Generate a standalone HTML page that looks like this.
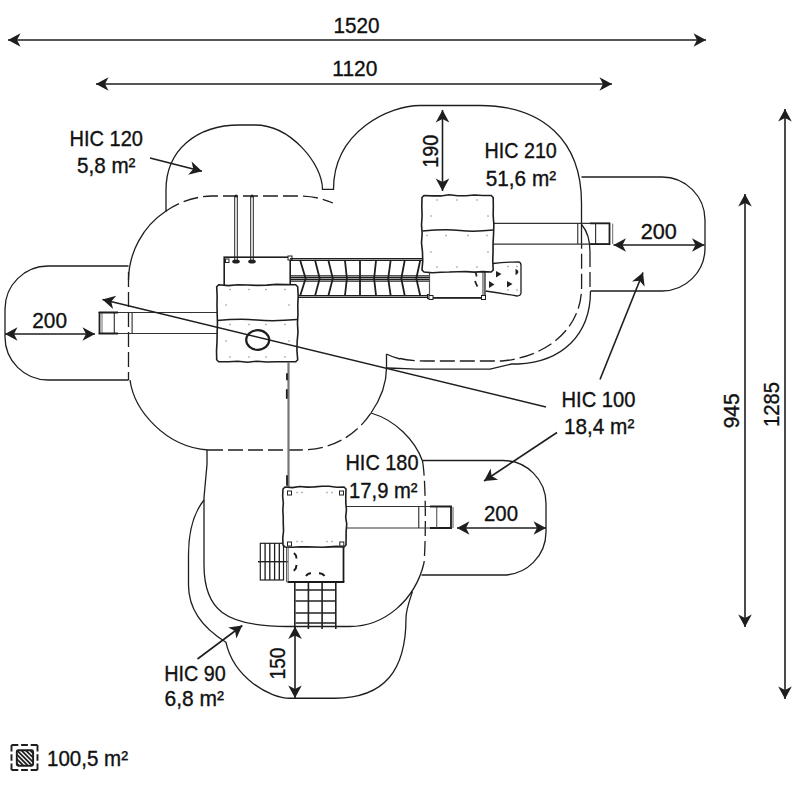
<!DOCTYPE html>
<html><head><meta charset="utf-8"><style>
html,body{margin:0;padding:0;background:#fff;}
svg{display:block;}
text{font-family:"Liberation Sans", sans-serif;}
</style></head><body>
<svg width="800" height="800" viewBox="0 0 800 800">
<rect width="800" height="800" fill="#fff"/>
<g fill="none" stroke="#1e1e1e" stroke-width="1.3">
<path d="M166,212 V190 C166,150.7 195.6,125 240,125 H255 C290.4,125 322.5,163.8 322.5,189.4 H333.5 C333.5,130.85 389.7,105.5 420,105.5 H480 C542.4,105.5 581.5,140.3 581.5,203 V244"/>
<path d="M581.5,177 H662 A43,43 0 0 1 705,220 V248 A43,43 0 0 1 662,291 H590.5"/>
<path d="M590.5,291 C590.5,335 562,362 518,364 L511.7,364 L490,369.2 L424,369.2 C410,369 398,368 386.5,368"/>
<path d="M581.6,224.5 C588,232 590,242 590,252"/>
<path d="M386.5,354 Q392,357 400,359"/>
<path d="M166,211 A84,84 0 0 0 128.5,280"/>
<path d="M130,380 C134,410 165,447 208,450"/>
<path d="M371,413 C380,400 386.5,385 386.5,368 V354"/>
<path d="M128.5,266 H48 A43,43 0 0 0 5,309 V337 A43,43 0 0 0 48,380 H128.5"/>
<path d="M371,413 C395,420 415,440 422.5,461"/>
<path d="M424,563 C415,600 385,626.5 349.5,626.5 H290 C224,627 204,609 204,565 V497.5 L207,464.5 V450"/>
<path d="M422.5,460.5 H503 A43,43 0 0 1 546,503.5 V532 A43,43 0 0 1 503,575 H421.5"/>
<path d="M204,500 C196,510 188.5,525 188.5,555 V585 C188.5,605 198,625 225.9,642.2 C233.9,678.3 270,698.25 290,698.25 H335 C385,698 406,670 406,618 C406,610 409,602 412.5,591.5"/>
</g>
<g fill="none" stroke="#1e1e1e" stroke-width="1.3" stroke-dasharray="15 5">
<path d="M590,252 V291"/>
<path d="M400,358.5 Q410,361 430,361 L502,361 C545,357 581.6,330 581.6,287 V244"/>
<path d="M128.5,272 V380"/>
<path d="M166,211 A84,84 0 0 1 212,196 H300 A82,82 0 0 1 333,203"/>
<path d="M208,450 H300 C330,450 355,437 371,413"/>
<path d="M422.5,461 C426,480 426,540 424,563"/>
</g>
<g fill="none" stroke="#333" stroke-width="1.15"><line x1="98.5" y1="312.5" x2="217" y2="312.5"/><line x1="98.5" y1="333.5" x2="217" y2="333.5"/><line x1="114.3" y1="312.5" x2="114.3" y2="333.5"/><line x1="132.1" y1="312.5" x2="132.1" y2="333.5"/></g>
<path d="M118,312.5 H99.5 V333.5 H118" fill="none" stroke="#1e1e1e" stroke-width="1.8"/>
<line x1="102" y1="313" x2="102" y2="333" stroke="#444" stroke-width="0.8"/>
<g fill="none" stroke="#333" stroke-width="1.15"><line x1="493" y1="223.3" x2="610" y2="223.3"/><line x1="493" y1="244.1" x2="610" y2="244.1"/><line x1="577.75" y1="223.3" x2="577.75" y2="244.1"/><line x1="595.6" y1="223.3" x2="595.6" y2="244.1"/></g>
<path d="M590,223.3 H609.5 V244.1 H590" fill="none" stroke="#1e1e1e" stroke-width="1.8"/>
<line x1="612.7" y1="223.5" x2="612.7" y2="244" stroke="#444" stroke-width="0.8"/>
<g fill="none" stroke="#333" stroke-width="1.15"><line x1="346" y1="506.5" x2="452" y2="506.5"/><line x1="346" y1="528" x2="452" y2="528"/><line x1="418.75" y1="506.5" x2="418.75" y2="528"/></g>
<path d="M430,506.5 H451 V528 H430" fill="none" stroke="#1e1e1e" stroke-width="1.8"/>
<line x1="436.75" y1="507" x2="436.75" y2="528" stroke="#444" stroke-width="1"/>
<line x1="453" y1="507" x2="453" y2="528" stroke="#444" stroke-width="0.9"/>
<rect x="224.2" y="257.2" width="66" height="40" fill="#fff" stroke="#1e1e1e" stroke-width="1.6"/>
<rect x="288" y="256" width="4" height="4" fill="#fff" stroke="#1e1e1e" stroke-width="1"/>
<line x1="234.7" y1="196" x2="234.7" y2="262" stroke="#222" stroke-width="1"/>
<line x1="237.3" y1="196" x2="237.3" y2="262" stroke="#222" stroke-width="1"/>
<ellipse cx="236" cy="261.5" rx="3.8" ry="2" fill="#222"/>
<circle cx="236" cy="196" r="1.5" fill="#222"/>
<line x1="250.7" y1="196" x2="250.7" y2="262" stroke="#222" stroke-width="1"/>
<line x1="253.3" y1="196" x2="253.3" y2="262" stroke="#222" stroke-width="1"/>
<ellipse cx="252" cy="261.5" rx="3.8" ry="2" fill="#222"/>
<circle cx="252" cy="196" r="1.5" fill="#222"/>
<rect x="225.5" y="259" width="3.5" height="3.5" fill="#fff" stroke="#222" stroke-width="1"/>
<g stroke="#1e1e1e" fill="none">
<line x1="290" y1="258.6" x2="422" y2="258.6" stroke-width="1.1"/><line x1="290" y1="260.4" x2="422" y2="260.4" stroke-width="1.1"/>
<line x1="297" y1="295.6" x2="430" y2="295.6" stroke-width="1.1"/><line x1="297" y1="297.4" x2="430" y2="297.4" stroke-width="1.1"/>
<line x1="290" y1="275.8" x2="430" y2="275.8" stroke-width="1.3"/>
<line x1="290" y1="277.6" x2="430" y2="277.6" stroke-width="1.3"/>
<line x1="290" y1="279.4" x2="430" y2="279.4" stroke-width="1.3"/>
<line x1="290" y1="281.2" x2="430" y2="281.2" stroke-width="1.3"/>
<path d="M300.1,260 L305.6,278.5 L300.1,296" stroke-width="1.8"/>
<path d="M315.0,260 L319.7,278.5 L315.0,296" stroke-width="1.8"/>
<path d="M328.3,260 L332.8,278.5 L328.3,296" stroke-width="1.8"/>
<path d="M344.9,260 L346.9,278.5 L344.9,296" stroke-width="1.8"/>
<path d="M360.0,260 L360.0,278.5 L360.0,296" stroke-width="1.8"/>
<path d="M376.1,260 L374.1,278.5 L376.1,296" stroke-width="1.8"/>
<path d="M390.7,260 L388.2,278.5 L390.7,296" stroke-width="1.8"/>
<path d="M404.8,260 L401.3,278.5 L404.8,296" stroke-width="1.8"/>
<path d="M420.3,260 L416.3,278.5 L420.3,296" stroke-width="1.8"/>
</g>
<rect x="427.5" y="294.5" width="4" height="4" fill="#fff" stroke="#1e1e1e" stroke-width="1"/>
<path d="M216.70,286.80 L218.70,284.80 L228.32,285.58 L237.95,284.80 L247.57,284.93 L257.20,285.40 L266.82,285.08 L276.45,284.36 L286.07,284.64 L295.70,284.80 L297.70,286.80 L298.21,295.91 L297.78,305.02 L297.95,314.14 L297.48,323.25 L297.99,332.36 L297.16,341.48 L296.91,350.59 L297.70,359.70 L295.70,361.70 L286.07,361.81 L276.45,361.79 L266.82,361.97 L257.20,361.19 L247.57,362.20 L237.95,361.26 L228.32,361.72 L218.70,361.70 L216.70,359.70 L216.52,350.59 L217.03,341.48 L217.16,332.36 L217.46,323.25 L217.18,314.14 L216.99,305.02 L217.14,295.91 L216.70,286.80 Z" fill="#fff" stroke="#1e1e1e" stroke-width="1.6"/>
<path d="M217,320.5 Q240,318.5 257,320 T297,319.5" fill="none" stroke="#1e1e1e" stroke-width="1.5"/>
<rect x="229.3" y="288.8" width="1.4" height="1.4" fill="#999"/><rect x="229.3" y="323.8" width="1.4" height="1.4" fill="#999"/><rect x="229.3" y="356.3" width="1.4" height="1.4" fill="#999"/><rect x="248.3" y="288.8" width="1.4" height="1.4" fill="#999"/><rect x="248.3" y="323.8" width="1.4" height="1.4" fill="#999"/><rect x="248.3" y="356.3" width="1.4" height="1.4" fill="#999"/><rect x="265.3" y="288.8" width="1.4" height="1.4" fill="#999"/><rect x="265.3" y="323.8" width="1.4" height="1.4" fill="#999"/><rect x="265.3" y="356.3" width="1.4" height="1.4" fill="#999"/><rect x="284.3" y="288.8" width="1.4" height="1.4" fill="#999"/><rect x="284.3" y="323.8" width="1.4" height="1.4" fill="#999"/><rect x="284.3" y="356.3" width="1.4" height="1.4" fill="#999"/>
<rect x="225.3" y="304.3" width="1.4" height="1.4" fill="#999"/><rect x="225.3" y="340.3" width="1.4" height="1.4" fill="#999"/><rect x="288.3" y="304.3" width="1.4" height="1.4" fill="#999"/><rect x="288.3" y="340.3" width="1.4" height="1.4" fill="#999"/>
<ellipse cx="257.7" cy="340" rx="11.5" ry="9.8" fill="none" stroke="#1e1e1e" stroke-width="2.2"/>
<line x1="288.5" y1="362" x2="288.5" y2="488" stroke="#777" stroke-width="2.2"/>
<path d="M287,374 V379.5 M286.8,390 V398 M287,476 V485" stroke="#1a1a1a" stroke-width="1.8" stroke-linecap="round"/>
<rect x="429.5" y="262" width="54.7" height="35.8" fill="#fff" stroke="#555" stroke-width="1.2"/>
<line x1="430" y1="297.8" x2="484" y2="297.8" stroke="#222" stroke-width="1.8"/>
<line x1="482.8" y1="272" x2="482.8" y2="297" stroke="#666" stroke-width="1"/><line x1="485.2" y1="264" x2="485.2" y2="297" stroke="#444" stroke-width="1.1"/>
<rect x="429" y="295.5" width="4" height="4" fill="#fff" stroke="#1e1e1e" stroke-width="1"/>
<rect x="481.5" y="295.5" width="4" height="4" fill="#fff" stroke="#1e1e1e" stroke-width="1"/>
<path d="M475.5,272.5 Q476.5,274 476.5,276.5 M475,281 Q476,284 477.5,286.5" fill="none" stroke="#222" stroke-width="1.8"/>
<path d="M493,263.5 Q505,262 518,261.8 Q521,262 521,265 V293 Q520.5,296 517,296 Q500,293 485.5,291" fill="#fff" stroke="#1e1e1e" stroke-width="1.3"/>
<path d="M496,271 L501.5,274 L496,277.5 Z M489,281 L494.5,284.5 L489,288 Z M507,281 L512.5,284 L507,287.5 Z M515.5,268.8 Q521.5,272 515.5,275.2 Z" fill="#222"/>
<rect x="507.3" y="265.8" width="1.4" height="1.4" fill="#999"/><rect x="507.3" y="289.3" width="1.4" height="1.4" fill="#999"/><rect x="516.3" y="265.8" width="1.4" height="1.4" fill="#999"/><rect x="516.3" y="289.3" width="1.4" height="1.4" fill="#999"/>
<path d="M422.00,197.50 L424.00,195.50 L432.40,195.86 L440.80,195.92 L449.20,194.80 L457.60,195.75 L466.00,195.81 L474.40,195.06 L482.80,195.50 L491.20,195.50 L493.20,197.50 L493.32,206.56 L493.18,215.62 L493.85,224.69 L493.58,233.75 L493.06,242.81 L493.04,251.88 L492.75,260.94 L493.20,270.00 L491.20,272.00 L482.80,271.59 L474.40,272.15 L466.00,271.66 L457.60,271.70 L449.20,272.07 L440.80,272.25 L432.40,272.68 L424.00,272.00 L422.00,270.00 L422.76,260.94 L422.46,251.88 L421.48,242.81 L422.16,233.75 L421.51,224.69 L422.10,215.62 L421.80,206.56 L422.00,197.50 Z" fill="#fff" stroke="#1e1e1e" stroke-width="1.6"/>
<path d="M422.5,231 Q445,229 460,230.5 T493,230" fill="none" stroke="#1e1e1e" stroke-width="1.5"/>
<rect x="436.3" y="199.3" width="1.4" height="1.4" fill="#999"/><rect x="436.3" y="266.3" width="1.4" height="1.4" fill="#999"/><rect x="456.3" y="199.3" width="1.4" height="1.4" fill="#999"/><rect x="456.3" y="266.3" width="1.4" height="1.4" fill="#999"/><rect x="476.3" y="199.3" width="1.4" height="1.4" fill="#999"/><rect x="476.3" y="266.3" width="1.4" height="1.4" fill="#999"/>
<rect x="430.3" y="215.3" width="1.4" height="1.4" fill="#999"/><rect x="430.3" y="251.3" width="1.4" height="1.4" fill="#999"/><rect x="487.3" y="215.3" width="1.4" height="1.4" fill="#999"/><rect x="487.3" y="251.3" width="1.4" height="1.4" fill="#999"/>
<rect x="426.3" y="234.8" width="1.4" height="1.4" fill="#999"/><rect x="445.3" y="234.8" width="1.4" height="1.4" fill="#999"/><rect x="467.3" y="234.8" width="1.4" height="1.4" fill="#999"/><rect x="486.3" y="234.8" width="1.4" height="1.4" fill="#999"/>
<rect x="260.3" y="543.3" width="23.2" height="36.7" fill="#fff" stroke="#222" stroke-width="1.2"/>
<line x1="265.1" y1="543.3" x2="265.1" y2="580" stroke="#1a1a1a" stroke-width="1.3"/>
<line x1="269.8" y1="543.3" x2="269.8" y2="580" stroke="#1a1a1a" stroke-width="1.3"/>
<line x1="274.6" y1="543.3" x2="274.6" y2="580" stroke="#1a1a1a" stroke-width="1.3"/>
<line x1="279.3" y1="543.3" x2="279.3" y2="580" stroke="#1a1a1a" stroke-width="1.3"/>
<line x1="258" y1="561.7" x2="290" y2="561.7" stroke="#222" stroke-width="1.4"/>
<rect x="288.25" y="547" width="55.25" height="35" fill="#fff" stroke="#888" stroke-width="1.2"/>
<line x1="287.5" y1="582" x2="344.3" y2="582" stroke="#1a1a1a" stroke-width="2"/>
<line x1="343.5" y1="547" x2="343.5" y2="582" stroke="#1a1a1a" stroke-width="1.7"/>
<line x1="286.6" y1="547" x2="286.6" y2="582" stroke="#555" stroke-width="1.1"/>
<path d="M294,553 Q296.5,555 296.5,558.5 M296.5,565 Q296.5,568.5 293.8,570.8 M306,576 Q308,573.2 311,573.2 M319,573.2 Q322.5,573.2 324.5,576" fill="none" stroke="#1a1a1a" stroke-width="2"/>
<g stroke="#222" stroke-width="1.6">
<line x1="294.8" y1="583" x2="294.8" y2="629" />
<line x1="308.4" y1="583" x2="308.4" y2="629" />
<line x1="322.1" y1="583" x2="322.1" y2="629" />
<line x1="335.8" y1="583" x2="335.8" y2="629" />
<line x1="295.5" y1="590" x2="335.5" y2="590" />
<line x1="295.5" y1="601" x2="335.5" y2="601" />
<line x1="295.5" y1="613" x2="335.5" y2="613" />
<line x1="295.5" y1="623" x2="335.5" y2="623" />
</g>
<path d="M283.00,489.00 L285.00,487.00 L292.38,487.58 L299.75,486.47 L307.12,487.11 L314.50,486.89 L321.88,486.32 L329.25,486.27 L336.62,487.25 L344.00,487.00 L346.00,489.00 L345.77,496.00 L345.83,503.00 L346.42,510.00 L345.68,517.00 L346.73,524.00 L346.16,531.00 L346.09,538.00 L346.00,545.00 L344.00,547.00 L336.62,546.34 L329.25,546.83 L321.88,547.26 L314.50,547.01 L307.12,546.88 L299.75,546.74 L292.38,547.31 L285.00,547.00 L283.00,545.00 L282.76,538.00 L283.54,531.00 L283.28,524.00 L283.22,517.00 L282.84,510.00 L283.33,503.00 L282.64,496.00 L283.00,489.00 Z" fill="#fff" stroke="#1e1e1e" stroke-width="1.6"/>
<rect x="287.5" y="491.0" width="4" height="4" fill="none" stroke="#222" stroke-width="1"/>
<rect x="339.5" y="491.0" width="4" height="4" fill="none" stroke="#222" stroke-width="1"/>
<rect x="287.5" y="542.0" width="4" height="4" fill="none" stroke="#222" stroke-width="1"/>
<rect x="339.8" y="542.0" width="4" height="4" fill="none" stroke="#222" stroke-width="1"/>
<rect x="296.3" y="491.8" width="1.4" height="1.4" fill="#999"/><rect x="296.3" y="540.8" width="1.4" height="1.4" fill="#999"/><rect x="301.3" y="491.8" width="1.4" height="1.4" fill="#999"/><rect x="301.3" y="540.8" width="1.4" height="1.4" fill="#999"/><rect x="326.3" y="491.8" width="1.4" height="1.4" fill="#999"/><rect x="326.3" y="540.8" width="1.4" height="1.4" fill="#999"/><rect x="331.3" y="491.8" width="1.4" height="1.4" fill="#999"/><rect x="331.3" y="540.8" width="1.4" height="1.4" fill="#999"/>
<line x1="8.00" y1="40.00" x2="706.00" y2="40.00" stroke="#1e1e1e" stroke-width="1.6"/><path d="M706.00,40.00 L693.50,46.80 L697.00,40.00 L693.50,33.20 Z" fill="#1e1e1e"/><path d="M8.00,40.00 L20.50,33.20 L17.00,40.00 L20.50,46.80 Z" fill="#1e1e1e"/>
<line x1="96.00" y1="84.00" x2="612.00" y2="84.00" stroke="#1e1e1e" stroke-width="1.6"/><path d="M612.00,84.00 L599.50,90.80 L603.00,84.00 L599.50,77.20 Z" fill="#1e1e1e"/><path d="M96.00,84.00 L108.50,77.20 L105.00,84.00 L108.50,90.80 Z" fill="#1e1e1e"/>
<line x1="745.00" y1="194.00" x2="745.00" y2="627.00" stroke="#1e1e1e" stroke-width="1.6"/><path d="M745.00,627.00 L738.20,614.50 L745.00,618.00 L751.80,614.50 Z" fill="#1e1e1e"/><path d="M745.00,194.00 L751.80,206.50 L745.00,203.00 L738.20,206.50 Z" fill="#1e1e1e"/>
<line x1="785.00" y1="109.00" x2="785.00" y2="699.00" stroke="#1e1e1e" stroke-width="1.6"/><path d="M785.00,699.00 L778.20,686.50 L785.00,690.00 L791.80,686.50 Z" fill="#1e1e1e"/><path d="M785.00,109.00 L791.80,121.50 L785.00,118.00 L778.20,121.50 Z" fill="#1e1e1e"/>
<line x1="442.50" y1="110.00" x2="442.50" y2="191.00" stroke="#1e1e1e" stroke-width="1.6"/><path d="M442.50,191.00 L435.70,178.50 L442.50,182.00 L449.30,178.50 Z" fill="#1e1e1e"/><path d="M442.50,110.00 L449.30,122.50 L442.50,119.00 L435.70,122.50 Z" fill="#1e1e1e"/>
<line x1="5.00" y1="334.00" x2="95.00" y2="334.00" stroke="#1e1e1e" stroke-width="1.6"/><path d="M95.00,334.00 L82.50,340.80 L86.00,334.00 L82.50,327.20 Z" fill="#1e1e1e"/><path d="M5.00,334.00 L17.50,327.20 L14.00,334.00 L17.50,340.80 Z" fill="#1e1e1e"/>
<line x1="613.50" y1="245.00" x2="704.50" y2="245.00" stroke="#1e1e1e" stroke-width="1.6"/><path d="M704.50,245.00 L692.00,251.80 L695.50,245.00 L692.00,238.20 Z" fill="#1e1e1e"/><path d="M613.50,245.00 L626.00,238.20 L622.50,245.00 L626.00,251.80 Z" fill="#1e1e1e"/>
<line x1="457.00" y1="528.00" x2="546.00" y2="528.00" stroke="#1e1e1e" stroke-width="1.6"/><path d="M546.00,528.00 L533.50,534.80 L537.00,528.00 L533.50,521.20 Z" fill="#1e1e1e"/><path d="M457.00,528.00 L469.50,521.20 L466.00,528.00 L469.50,534.80 Z" fill="#1e1e1e"/>
<line x1="295.00" y1="626.50" x2="295.00" y2="698.00" stroke="#1e1e1e" stroke-width="1.6"/><path d="M295.00,698.00 L288.20,685.50 L295.00,689.00 L301.80,685.50 Z" fill="#1e1e1e"/><path d="M295.00,626.50 L301.80,639.00 L295.00,635.50 L288.20,639.00 Z" fill="#1e1e1e"/>
<line x1="150" y1="158" x2="202" y2="171.3" stroke="#1e1e1e" stroke-width="1.6"/><path d="M202.00,171.30 L188.20,174.79 L193.28,169.07 L191.57,161.61 Z" fill="#1e1e1e"/>
<line x1="546" y1="407" x2="102.5" y2="299.5" stroke="#1e1e1e" stroke-width="1.6"/><path d="M102.50,299.50 L116.25,295.84 L111.25,301.62 L113.05,309.05 Z" fill="#1e1e1e"/>
<line x1="600" y1="379.5" x2="643" y2="272.5" stroke="#1e1e1e" stroke-width="1.6"/><path d="M643.00,272.50 L644.65,286.63 L639.64,280.85 L632.03,281.56 Z" fill="#1e1e1e"/>
<line x1="557" y1="432.5" x2="484" y2="481" stroke="#1e1e1e" stroke-width="1.6"/><path d="M484.00,481.00 L490.65,468.42 L491.50,476.02 L498.17,479.75 Z" fill="#1e1e1e"/>
<line x1="197.5" y1="659" x2="242.3" y2="625.5" stroke="#1e1e1e" stroke-width="1.6"/><path d="M242.30,625.50 L236.36,638.43 L235.09,630.89 L228.22,627.54 Z" fill="#1e1e1e"/>
<line x1="11.5" y1="745" x2="37.5" y2="745" stroke="#1e1e1e" stroke-width="1.9" stroke-dasharray="6.80 2.8 6.80 2.8 6.80"/>
<line x1="37.5" y1="745" x2="37.5" y2="770" stroke="#1e1e1e" stroke-width="1.9" stroke-dasharray="6.47 2.8 6.47 2.8 6.47"/>
<line x1="37.5" y1="770" x2="11.5" y2="770" stroke="#1e1e1e" stroke-width="1.9" stroke-dasharray="6.80 2.8 6.80 2.8 6.80"/>
<line x1="11.5" y1="770" x2="11.5" y2="745" stroke="#1e1e1e" stroke-width="1.9" stroke-dasharray="6.47 2.8 6.47 2.8 6.47"/>
<rect x="16.8" y="750.2" width="16.3" height="15.6" rx="1.5" fill="none" stroke="#1e1e1e" stroke-width="1.9"/>
<clipPath id="lc"><rect x="16.8" y="750.2" width="16.3" height="15.6"/></clipPath>
<g clip-path="url(#lc)" stroke="#1e1e1e" stroke-width="1.8">
<line x1="-0.8" y1="750.2" x2="14.8" y2="765.8"/>
<line x1="3.6" y1="750.2" x2="19.2" y2="765.8"/>
<line x1="8.0" y1="750.2" x2="23.6" y2="765.8"/>
<line x1="12.4" y1="750.2" x2="28.0" y2="765.8"/>
<line x1="16.8" y1="750.2" x2="32.4" y2="765.8"/>
<line x1="21.2" y1="750.2" x2="36.8" y2="765.8"/>
<line x1="25.6" y1="750.2" x2="41.2" y2="765.8"/>
<line x1="30.0" y1="750.2" x2="45.6" y2="765.8"/>
<line x1="34.4" y1="750.2" x2="50.0" y2="765.8"/>
</g>
<g transform="translate(0,0.5)" font-family="Liberation Sans, sans-serif" font-size="21.5" fill="#111" stroke="#111" stroke-width="0.35"><text x="333.50" y="32.50" textLength="46.0" lengthAdjust="spacingAndGlyphs">1520</text><text x="332.30" y="75.00" textLength="45.0" lengthAdjust="spacingAndGlyphs">1120</text><text x="69.50" y="145.75" textLength="73.5" lengthAdjust="spacingAndGlyphs">HIC 120</text><text x="77.00" y="172.50" textLength="58.5" lengthAdjust="spacingAndGlyphs">5,8 m²</text><text x="484.50" y="157.50" textLength="72.3" lengthAdjust="spacingAndGlyphs">HIC 210</text><text x="485.80" y="185.00" textLength="70.3" lengthAdjust="spacingAndGlyphs">51,6 m²</text><text x="32.30" y="327.40" textLength="34.7" lengthAdjust="spacingAndGlyphs">200</text><text x="640.80" y="238.75" textLength="36.0" lengthAdjust="spacingAndGlyphs">200</text><text x="561.50" y="406.25" textLength="74.0" lengthAdjust="spacingAndGlyphs">HIC 100</text><text x="564.00" y="433.00" textLength="70.3" lengthAdjust="spacingAndGlyphs">18,4 m²</text><text x="345.50" y="469.40" textLength="73.0" lengthAdjust="spacingAndGlyphs">HIC 180</text><text x="349.10" y="497.20" textLength="68.4" lengthAdjust="spacingAndGlyphs">17,9 m²</text><text x="484.00" y="520.30" textLength="34.0" lengthAdjust="spacingAndGlyphs">200</text><text x="164.20" y="680.75" textLength="61.5" lengthAdjust="spacingAndGlyphs">HIC 90</text><text x="164.50" y="705.00" textLength="59.5" lengthAdjust="spacingAndGlyphs">6,8 m²</text><text x="47.00" y="765.75" textLength="81.0" lengthAdjust="spacingAndGlyphs">100,5 m²</text><g transform="translate(437.8,150.8) rotate(-90)"><text x="-16.50" y="0.00" textLength="33.0" lengthAdjust="spacingAndGlyphs">190</text></g><g transform="translate(285,663) rotate(-90)"><text x="-16.00" y="0.00" textLength="32.0" lengthAdjust="spacingAndGlyphs">150</text></g><g transform="translate(738.5,410.3) rotate(-90)"><text x="-17.50" y="0.00" textLength="35.0" lengthAdjust="spacingAndGlyphs">945</text></g><g transform="translate(779,404) rotate(-90)"><text x="-22.50" y="0.00" textLength="45.0" lengthAdjust="spacingAndGlyphs">1285</text></g></g>
</svg>
</body></html>
